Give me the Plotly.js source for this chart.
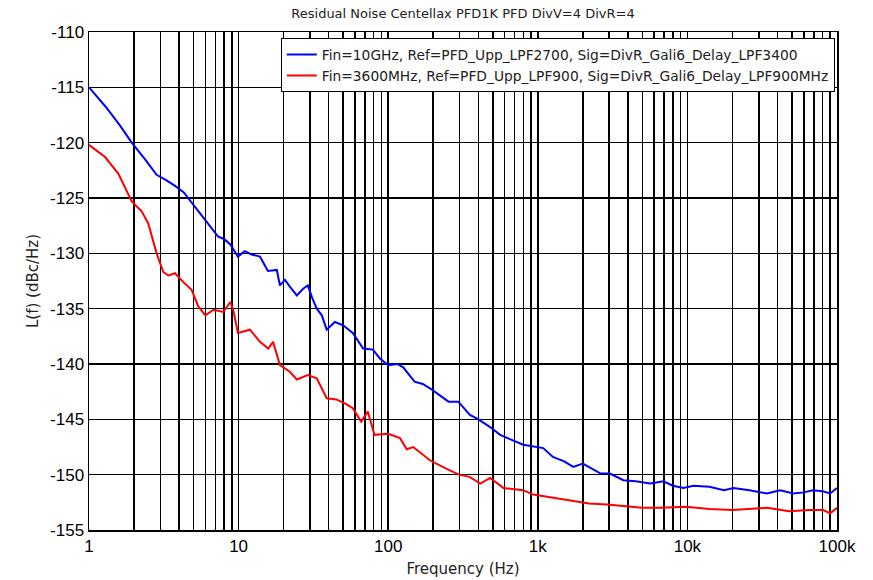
<!DOCTYPE html>
<html>
<head>
<meta charset="utf-8">
<script src="https://cdn.plot.ly/plotly-3.0.1.min.js"></script>
<style>html,body{margin:0;padding:0;background:#fff;}#chart{width:873px;height:580px;}</style>
</head>
<body>
<div id="chart"></div>
<script>
const chartTitle = "Residual Noise Centellax PFD1K PFD DivV=4 DivR=4";
const xTitle = "Frequency (Hz)";
const yTitle = "L(f) (dBc/Hz)";
const blueName = "Fin=10GHz, Ref=PFD_Upp_LPF2700, Sig=DivR_Gali6_Delay_LPF3400";
const redName = "Fin=3600MHz, Ref=PFD_Upp_LPF900, Sig=DivR_Gali6_Delay_LPF900MHz";

const blueFreq = [1, 1.3, 1.6, 1.93, 2.4, 2.83, 3.3, 3.76, 4.3, 5.1, 6.0, 6.7, 7.3, 8.0, 8.8, 9.9, 11, 12.2, 13.9, 15.7, 18, 18.9, 20.4, 22, 24.5, 27, 29, 31, 33.3, 36, 38.8, 44, 50, 58, 68, 79, 88, 100, 115, 126, 150, 170, 195, 253, 294, 352, 401, 480, 560, 680, 800, 1087, 1262, 1500, 1728, 2000, 2630, 3040, 3730, 4500, 5650, 6910, 8000, 9390, 11000, 14000, 17600, 20300, 26000, 34000, 41700, 51000, 60000, 69000, 80000, 90000, 100000];
const blueVal = [-115, -116.8, -118.4, -120.0, -121.6, -122.9, -123.4, -123.9, -124.5, -125.8, -127.0, -127.9, -128.5, -128.7, -129.2, -130.3, -129.8, -130.1, -130.3, -131.6, -131.5, -132.9, -132.4, -133.0, -133.8, -133.2, -132.9, -134.0, -135.0, -135.6, -136.9, -136.2, -136.5, -137.2, -138.6, -138.7, -139.5, -140.1, -140.0, -140.3, -141.6, -141.8, -142.3, -143.4, -143.4, -144.6, -145.0, -145.7, -146.4, -146.9, -147.3, -147.6, -148.4, -148.8, -149.3, -149.0, -149.9, -149.9, -150.5, -150.6, -150.8, -150.6, -151.0, -151.2, -151.0, -151.1, -151.4, -151.2, -151.4, -151.7, -151.4, -151.7, -151.6, -151.4, -151.5, -151.7, -151.2];

const redFreq = [1, 1.28, 1.57, 1.93, 2.25, 2.49, 2.83, 3.14, 3.4, 3.76, 4.27, 4.85, 5.38, 6.0, 6.8, 7.9, 8.8, 9.2, 9.9, 11.9, 13.9, 15.8, 17, 18.9, 22, 24.5, 29, 33.3, 38.8, 45, 52, 58, 66, 73, 81, 100, 120, 133, 147, 190, 240, 297, 350, 413, 480, 590, 800, 930, 1300, 1730, 2200, 2900, 3900, 5000, 6600, 9800, 14000, 20000, 34000, 48000, 65000, 81000, 90000, 100000];
const redVal = [-120.2, -121.3, -122.8, -125.3, -126.2, -127.3, -130.0, -131.7, -132.0, -131.8, -132.6, -133.3, -134.8, -135.6, -135.1, -135.3, -134.4, -135.1, -137.2, -136.9, -138.0, -138.6, -138.0, -140.1, -140.7, -141.4, -141.0, -141.3, -143.1, -143.2, -143.6, -144.0, -145.2, -144.3, -146.4, -146.3, -146.7, -147.7, -147.5, -148.7, -149.4, -150.0, -150.2, -150.8, -150.3, -151.2, -151.4, -151.8, -152.1, -152.4, -152.6, -152.7, -152.9, -153.0, -153.0, -152.9, -153.1, -153.2, -153.0, -153.3, -153.2, -153.2, -153.5, -153.0];

const decadeLabels = ["1", "10", "100", "1k", "10k", "100k"];
const yTickVals = [-110, -115, -120, -125, -130, -135, -140, -145, -150, -155];
const yTickText = ["-110", "-115", "-120", "-125", "-130", "-135", "-140", "-145", "-150", "-155"];

const xTickVals = [], xTickText = [];
for (let d = 0; d <= 5; d++) {
  const base = Math.pow(10, d);
  const maxM = d === 5 ? 1 : 9;
  for (let m = 1; m <= maxM; m++) {
    xTickVals.push(m * base);
    xTickText.push(m === 1 ? decadeLabels[d] : "");
  }
}

const traces = [
  {x: blueFreq, y: blueVal, name: blueName, type: 'scatter', mode: 'lines', line: {color: '#0000ff', width: 2}},
  {x: redFreq, y: redVal, name: redName, type: 'scatter', mode: 'lines', line: {color: '#ff0000', width: 2}}
];

const layout = {
  width: 873, height: 580,
  paper_bgcolor: '#fff', plot_bgcolor: '#fff',
  margin: {l: 89, r: 36, t: 32, b: 50},
  title: {text: chartTitle, font: {family: 'DejaVu Sans', size: 13, color: '#222'}, x: 0.5, xref: 'paper', y: 1 - 13/580, yref: 'container', yanchor: 'middle'},
  font: {family: 'Liberation Sans, Arial', color: '#000'},
  showlegend: true,
  legend: {x: 0.997, xanchor: 'right', y: 0.988, yanchor: 'top', bgcolor: '#fff', bordercolor: '#000', borderwidth: 1,
           font: {family: 'DejaVu Sans', size: 13.8, color: '#222'}, tracegroupgap: 0},
  xaxis: {type: 'log', range: [0, 5], tickmode: 'array', tickvals: xTickVals, ticktext: xTickText,
          showgrid: true, gridcolor: '#000', gridwidth: 1.5, zeroline: false,
          showline: true, linecolor: '#000', linewidth: 1.5, mirror: true, ticks: '',
          tickfont: {size: 17, family: 'Liberation Sans, Arial'},
          title: {text: xTitle, font: {family: 'DejaVu Sans', size: 15, color: '#222'}, standoff: 8}},
  yaxis: {range: [-155, -110], tickmode: 'array', tickvals: yTickVals, ticktext: yTickText,
          showgrid: true, gridcolor: '#000', gridwidth: 1.5, zeroline: false,
          showline: true, linecolor: '#000', linewidth: 1.5, mirror: true, ticks: '',
          tickfont: {size: 17, family: 'Liberation Sans, Arial'},
          title: {text: yTitle, font: {family: 'DejaVu Sans', size: 15, color: '#222'}, standoff: 8}}
};

Plotly.newPlot('chart', traces, layout, {displayModeBar: false, staticPlot: true});
</script>
</body>
</html>
